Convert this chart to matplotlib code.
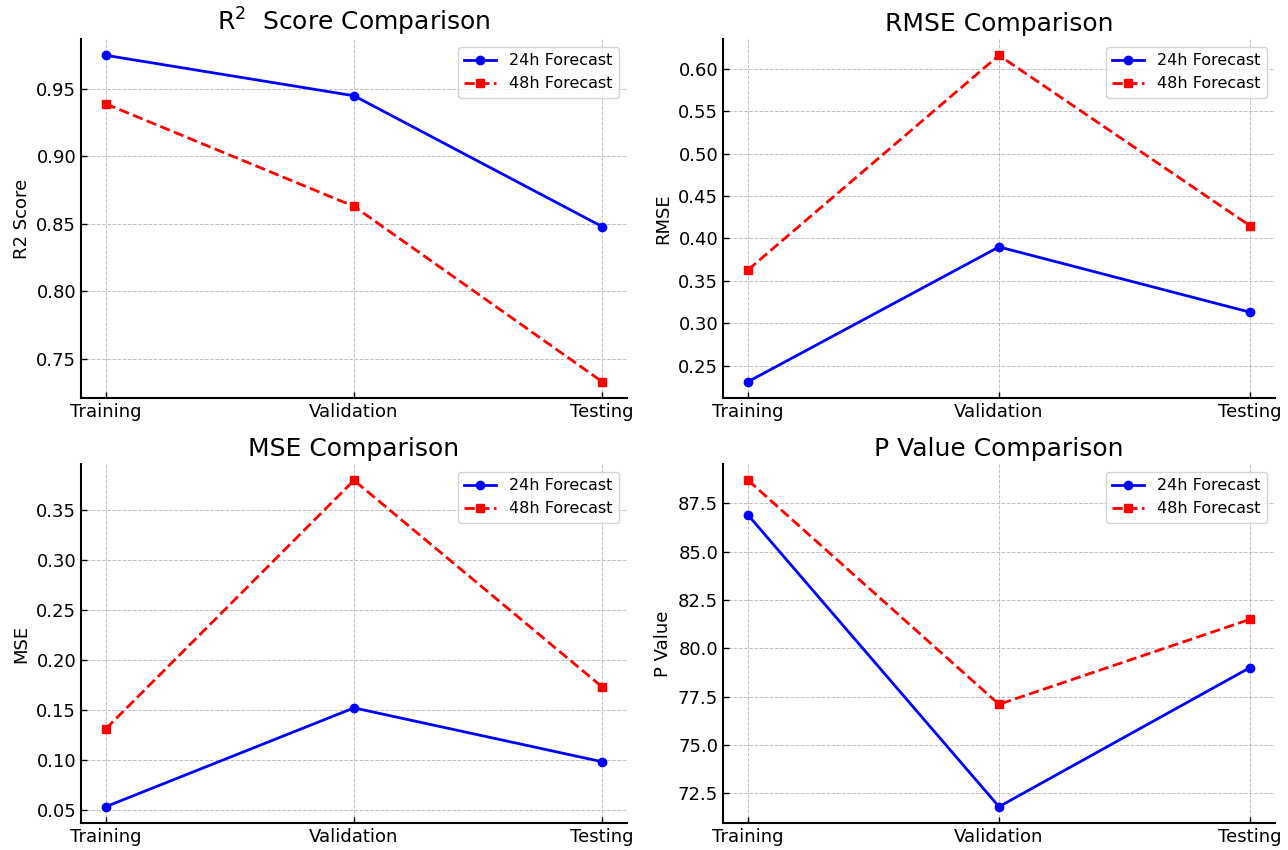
import matplotlib
matplotlib.use("Agg")
import matplotlib.pyplot as plt

stages = ["Training", "Validation", "Testing"]

r2_24h = [0.975, 0.945, 0.848]
r2_48h = [0.939, 0.863, 0.733]
rmse_24h = [0.231, 0.390, 0.313]
rmse_48h = [0.363, 0.616, 0.415]
mse_24h = [0.053, 0.152, 0.098]
mse_48h = [0.131, 0.380, 0.173]
p_24h = [86.9, 71.8, 79.0]
p_48h = [88.7, 77.1, 81.5]

panels = [
    ("R$^2$  Score Comparison", "R2 Score", r2_24h, r2_48h),
    ("RMSE Comparison", "RMSE", rmse_24h, rmse_48h),
    ("MSE Comparison", "MSE", mse_24h, mse_48h),
    ("P Value Comparison", "P Value", p_24h, p_48h),
]

W, H = 1288, 850
# axes boxes in pixels: left, top, right, bottom
boxes = [(81, 39, 627, 398), (723, 39, 1275, 398),
         (81, 464, 627, 823), (723, 464, 1275, 823)]

fig, axes = plt.subplots(2, 2, figsize=(12.88, 8.5), dpi=100)

for ax, box, (title, ylabel, s24, s48) in zip(axes.flat, boxes, panels):
    l, t, r, b = box
    ax.set_position([l / W, 1 - b / H, (r - l) / W, (b - t) / H])
    ax.plot(stages, s24, color="blue", marker="o", linestyle="-",
            linewidth=2, markersize=6, label="24h Forecast")
    ax.plot(stages, s48, color="red", marker="s", linestyle="--",
            linewidth=2, markersize=6, label="48h Forecast")
    ax.set_title(title, fontsize=18, pad=6)
    ax.set_ylabel(ylabel, fontsize=13)
    ax.tick_params(labelsize=13, direction="in", length=4, width=1)
    ax.grid(True, linestyle="--", color="#b0b0b0", linewidth=0.7, alpha=0.8)
    ax.spines["top"].set_visible(False)
    ax.spines["right"].set_visible(False)
    ax.spines["left"].set_linewidth(1.5)
    ax.spines["bottom"].set_linewidth(1.5)
    ax.legend(loc="upper right", fontsize=11.5)

plt.savefig("out.png", dpi=100)
